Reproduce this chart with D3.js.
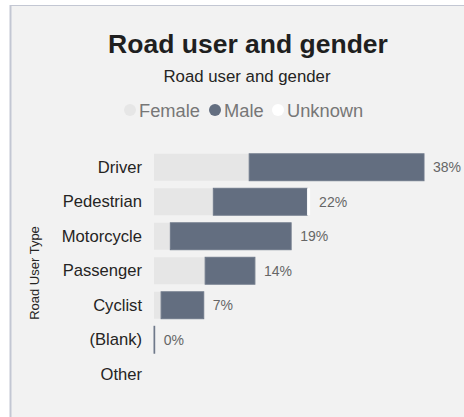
<!DOCTYPE html>
<html>
<head>
<meta charset="utf-8">
<script src="https://cdn.jsdelivr.net/npm/d3@7"></script>
<style>
  html, body { margin: 0; padding: 0; background: #ffffff; }
  svg { display: block; font-family: "Liberation Sans", Arial, sans-serif; }
</style>
</head>
<body>
<svg id="chart" width="464" height="417"></svg>
<script>
// Road user types (rows, top to bottom)
const categories = ["Driver", "Pedestrian", "Motorcycle", "Passenger", "Cyclist", "(Blank)", "Other"];
// Share of casualties (%) by gender for each road user type
const female  = [13.4, 8.35, 2.3, 7.2, 1.0, 0, null];
const male    = [24.6, 13.2, 17.0, 7.0, 6.0, 0.1, null];
const unknown = [0,    0.42, 0,   0,   0,   0, null];
const seriesNames = ["Female", "Male", "Unknown"];
const seriesColors = ["#e6e6e6", "#636e80", "#ffffff"];

const svg = d3.select("#chart");
const W = 464, H = 417;

// panel background with left/top edge
svg.append("rect").attr("x", 10).attr("y", 5).attr("width", W - 10).attr("height", H - 5)
  .attr("fill", "#f2f2f2");
svg.append("line").attr("x1", 10.5).attr("x2", 10.5).attr("y1", 5).attr("y2", H)
  .attr("stroke", "#c3c7d3").attr("stroke-width", 2);
svg.append("line").attr("x1", 10).attr("x2", W).attr("y1", 5.5).attr("y2", 5.5)
  .attr("stroke", "#c3c7d3").attr("stroke-width", 1);

// titles
svg.append("text").attr("x", 248).attr("y", 53).attr("text-anchor", "middle")
  .attr("font-size", 26.5).attr("font-weight", "bold").attr("fill", "#1f1f1f")
  .text("Road user and gender");
svg.append("text").attr("x", 247).attr("y", 82).attr("text-anchor", "middle")
  .attr("font-size", 16.8).attr("fill", "#252423")
  .text("Road user and gender");

// legend
const legendItems = [
  { name: seriesNames[0], color: seriesColors[0], cx: 130 },
  { name: seriesNames[1], color: seriesColors[1], cx: 215 },
  { name: seriesNames[2], color: seriesColors[2], cx: 278 }
];
const lg = svg.append("g");
legendItems.forEach(d => {
  lg.append("circle").attr("cx", d.cx).attr("cy", 110).attr("r", 6).attr("fill", d.color);
  lg.append("text").attr("x", d.cx + 9).attr("y", 116.5).attr("font-size", 18.3)
    .attr("fill", "#777777").text(d.name);
});

// scales
const x = d3.scaleLinear().domain([0, 38]).range([154, 424]);
const y = d3.scaleBand().domain(categories).range([150, 391.5])
  .paddingInner(0.22).paddingOuter(0.11);

// stacked data
const rows = categories.map((c, i) => ({
  cat: c, Female: female[i], Male: male[i], Unknown: unknown[i],
  empty: female[i] === null
}));
const stack = d3.stack().keys(seriesNames).value((d, k) => d[k] || 0);
const layers = stack(rows);

const barG = svg.append("g");
layers.forEach((layer, li) => {
  barG.selectAll(null).data(layer.filter(s => !s.data.empty && s[1] > s[0])).enter()
    .append("rect")
    .attr("x", s => x(s[0]))
    .attr("y", s => y(s.data.cat))
    .attr("width", s => x(s[1]) - x(s[0]))
    .attr("height", y.bandwidth())
    .attr("fill", seriesColors[li])
    .attr("stroke", li === 1 ? "#6f798a" : "none")
    .attr("stroke-width", li === 1 ? 1 : 0);
});

// category axis
const yAxis = d3.axisLeft(y).tickSize(0).tickPadding(0);
const ax = svg.append("g").attr("transform", "translate(142,0)").call(yAxis);
ax.select(".domain").remove();
ax.selectAll("text").attr("font-size", 16.6).attr("fill", "#252423")
  .attr("font-family", "'Liberation Sans', Arial, sans-serif");

// value labels: total share, rounded
svg.append("g").selectAll("text")
  .data(rows.filter(r => !r.empty)).enter().append("text")
  .attr("x", r => x(r.Female + r.Male + r.Unknown) + 9)
  .attr("y", r => y(r.cat) + y.bandwidth() / 2)
  .attr("dy", "0.35em")
  .attr("font-size", 14).attr("fill", "#666666")
  .text(r => Math.round(r.Female + r.Male + r.Unknown) + "%");

// axis title
svg.append("text")
  .attr("transform", "translate(39,273) rotate(-90)")
  .attr("text-anchor", "middle").attr("font-size", 13).attr("fill", "#252423")
  .text("Road User Type");
</script>
</body>
</html>
